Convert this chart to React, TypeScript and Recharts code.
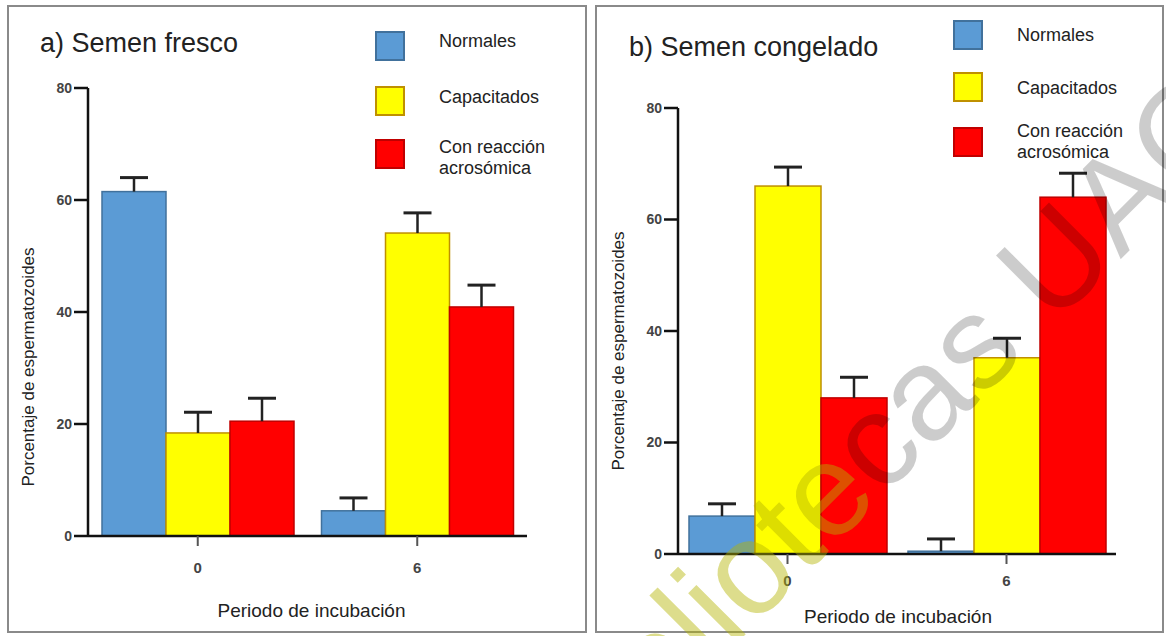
import React from 'react';
import { BarChart, Bar, XAxis, YAxis, Legend } from 'recharts';

const FONT = '"Liberation Sans", Arial, Helvetica, sans-serif';

const periodos = ['0', '6'];
const yTicks = [0, 20, 40, 60, 80];

// a) Semen fresco: media y error (solo hacia arriba)
const frescoNormales = [61.5, 4.5];
const frescoNormalesErr = [2.5, 2.3];
const frescoCapacitados = [18.4, 54.1];
const frescoCapacitadosErr = [3.7, 3.6];
const frescoReaccion = [20.5, 40.9];
const frescoReaccionErr = [4.1, 3.9];

// b) Semen congelado
const congeladoNormales = [6.8, 0.5];
const congeladoNormalesErr = [2.2, 2.2];
const congeladoCapacitados = [66.0, 35.2];
const congeladoCapacitadosErr = [3.4, 3.5];
const congeladoReaccion = [28.0, 64.0];
const congeladoReaccionErr = [3.7, 4.3];

const series = [
  { key: 'normales', name: 'Normales', fill: '#5b9bd5', stroke: '#41719c' },
  { key: 'capacitados', name: 'Capacitados', fill: '#ffff00', stroke: '#bf9000' },
  { key: 'reaccion', name: 'Con reacción acrosómica', fill: '#ff0000', stroke: '#c00000' },
];

function buildData(n: number[], nErr: number[], c: number[], cErr: number[], r: number[], rErr: number[]) {
  return periodos.map((p, i) => ({
    periodo: p,
    normales: n[i],
    normalesErr: nErr[i],
    capacitados: c[i],
    capacitadosErr: cErr[i],
    reaccion: r[i],
    reaccionErr: rErr[i],
  }));
}

const frescoData = buildData(
  frescoNormales, frescoNormalesErr,
  frescoCapacitados, frescoCapacitadosErr,
  frescoReaccion, frescoReaccionErr,
);
const congeladoData = buildData(
  congeladoNormales, congeladoNormalesErr,
  congeladoCapacitados, congeladoCapacitadosErr,
  congeladoReaccion, congeladoReaccionErr,
);

// bar + upper whisker, whisker length taken from the bar's own px/unit
function barWithError(valueKey: string, errKey: string) {
  return (props: any) => {
    const { x, y, width, height, fill, stroke, payload } = props;
    const v = payload[valueKey];
    const pxPerUnit = v > 0 ? height / v : 0;
    const capY = y - payload[errKey] * pxPerUnit;
    const cx = x + width / 2;
    return (
      <g>
        <rect x={x} y={y} width={width} height={height} fill={fill} stroke={stroke} strokeWidth={1.5} />
        <line x1={cx} y1={y} x2={cx} y2={capY} stroke="#222" strokeWidth={2.5} />
        <line x1={cx - 14} y1={capY} x2={cx + 14} y2={capY} stroke="#222" strokeWidth={3} />
      </g>
    );
  };
}

// legend kept in series order (recharts sorts payload by name otherwise)
function legendContent(squareTops: number[], textTops: number[]) {
  return (props: any) => {
    const payload = props.payload || [];
    return (
      <div style={{ position: 'relative', width: 230, height: 190, fontFamily: FONT }}>
        {series.map((s, i) => {
          const entry = payload.find((p: any) => p.value === s.name);
          const fill = entry && entry.color ? entry.color : s.fill;
          return (
            <React.Fragment key={s.key}>
              <div
                style={{
                  position: 'absolute',
                  left: 0,
                  top: squareTops[i],
                  width: 30,
                  height: 30,
                  boxSizing: 'border-box',
                  background: fill,
                  border: `2px solid ${s.stroke}`,
                }}
              />
              <div
                style={{
                  position: 'absolute',
                  left: 64,
                  top: textTops[i],
                  width: 125,
                  fontSize: 18,
                  lineHeight: '21px',
                  color: '#222',
                }}
              >
                {entry ? entry.value : s.name}
              </div>
            </React.Fragment>
          );
        })}
      </div>
    );
  };
}

interface PanelLayout {
  left: number;
  width: number;
  titleX: number;
  titleTop: number;
  marginTop: number;
  marginRight: number;
  xAxisHeight: number;
  barCategoryGap: number;
  xTickMargin: number;
  xLabelBaseline: number;
  xLabelShift: number;
  yLabelX: number;
  yLabelShift: number;
  legendLeft: number;
  squareTops: number[];
  textTops: number[];
}

function Panel({ title, data, layout }: { title: string; data: any[]; layout: PanelLayout }) {
  const xLabel = (props: any) => {
    const vb = props.viewBox;
    return (
      <text
        x={vb.x + vb.width / 2 + layout.xLabelShift}
        y={vb.y + layout.xLabelBaseline}
        textAnchor="middle"
        fontSize={19}
        fill="#222"
        fontFamily={FONT}
      >
        Periodo de incubación
      </text>
    );
  };
  const yLabel = (props: any) => {
    const vb = props.viewBox;
    const cx = vb.x + layout.yLabelX;
    const cy = vb.y + vb.height / 2 + layout.yLabelShift;
    return (
      <text
        x={cx}
        y={cy}
        transform={`rotate(-90, ${cx}, ${cy})`}
        textAnchor="middle"
        dominantBaseline="central"
        fontSize={17}
        fill="#222"
        fontFamily={FONT}
      >
        Porcentaje de espermatozoides
      </text>
    );
  };

  return (
    <div style={{ position: 'absolute', left: layout.left, top: 0, width: layout.width, height: 636 }}>
      <div
        style={{
          position: 'absolute',
          left: layout.titleX,
          top: layout.titleTop,
          fontSize: 27,
          lineHeight: '27px',
          color: '#222',
          fontFamily: FONT,
          whiteSpace: 'nowrap',
          zIndex: 2,
        }}
      >
        {title}
      </div>
      <BarChart
        width={layout.width}
        height={636}
        data={data}
        margin={{ top: layout.marginTop, right: layout.marginRight, bottom: 10, left: 0 }}
        barCategoryGap={layout.barCategoryGap}
        barGap={0}
      >
        <XAxis
          dataKey="periodo"
          height={layout.xAxisHeight}
          tickSize={10}
          tickMargin={layout.xTickMargin}
          axisLine={{ stroke: '#111', strokeWidth: 2.5 }}
          tickLine={{ stroke: '#555', strokeWidth: 2 }}
          tick={{ fontSize: 15, fontWeight: 700, fill: '#444', fontFamily: FONT }}
          label={xLabel}
        />
        <YAxis
          type="number"
          domain={[0, 80]}
          ticks={yTicks}
          interval={0}
          width={88}
          tickSize={14}
          tickMargin={2}
          axisLine={{ stroke: '#111', strokeWidth: 2.5 }}
          tickLine={{ stroke: '#111', strokeWidth: 2.5 }}
          tick={{ fontSize: 14, fontWeight: 700, fill: '#444', fontFamily: FONT }}
          label={yLabel}
        />
        <Legend
          layout="horizontal"
          verticalAlign="middle"
          align="center"
          content={legendContent(layout.squareTops, layout.textTops)}
          wrapperStyle={{ left: layout.legendLeft, top: 0, width: 230, height: 190 }}
        />
        {series.map((s) => (
          <Bar
            key={s.key}
            dataKey={s.key}
            name={s.name}
            fill={s.fill}
            stroke={s.stroke}
            isAnimationActive={false}
            shape={barWithError(s.key, s.key + 'Err')}
          />
        ))}
      </BarChart>
    </div>
  );
}

const leftLayout: PanelLayout = {
  left: 0,
  width: 590,
  titleX: 40,
  titleTop: 30,
  marginTop: 88,
  marginRight: 63,
  xAxisHeight: 90,
  barCategoryGap: 14,
  xTickMargin: 16,
  xLabelBaseline: 81,
  xLabelShift: 4,
  yLabelX: 28,
  yLabelShift: 55,
  legendLeft: 375,
  squareTops: [31, 86, 139],
  textTops: [31, 87, 137],
};

const rightLayout: PanelLayout = {
  left: 590,
  width: 576,
  titleX: 39,
  titleTop: 34,
  marginTop: 108,
  marginRight: 50,
  xAxisHeight: 72,
  barCategoryGap: 11,
  xTickMargin: 11,
  xLabelBaseline: 69,
  xLabelShift: 1,
  yLabelX: 28,
  yLabelShift: 20,
  legendLeft: 363,
  squareTops: [20, 72, 127],
  textTops: [25, 78, 121],
};

export default function App() {
  return (
    <div
      style={{
        position: 'absolute',
        left: 0,
        top: 0,
        width: 1166,
        height: 636,
        background: '#fff',
        fontFamily: FONT,
        overflow: 'hidden',
      }}
    >
      <div
        style={{
          position: 'absolute',
          left: 7,
          top: 5,
          width: 580,
          height: 628,
          boxSizing: 'border-box',
          border: '2px solid #8a8a8a',
        }}
      />
      <div
        style={{
          position: 'absolute',
          left: 595,
          top: 5,
          width: 569,
          height: 628,
          boxSizing: 'border-box',
          border: '2px solid #8a8a8a',
        }}
      />
      <Panel title="a) Semen fresco" data={frescoData} layout={leftLayout} />
      <Panel title="b) Semen congelado" data={congeladoData} layout={rightLayout} />
      {/* watermark of the source image */}
      <svg
        width={1166}
        height={636}
        style={{ position: 'absolute', left: 0, top: 0, pointerEvents: 'none' }}
      >
        <text
          x={883}
          y={432}
          transform="rotate(-45, 883, 432)"
          textAnchor="middle"
          dominantBaseline="central"
          fontSize={132}
          fontFamily={FONT}
        >
          <tspan fill="#b4b400" fillOpacity={0.45}>Bibliote</tspan>
          <tspan fill="#000" fillOpacity={0.2}>cas UAQ</tspan>
        </text>
      </svg>
    </div>
  );
}
